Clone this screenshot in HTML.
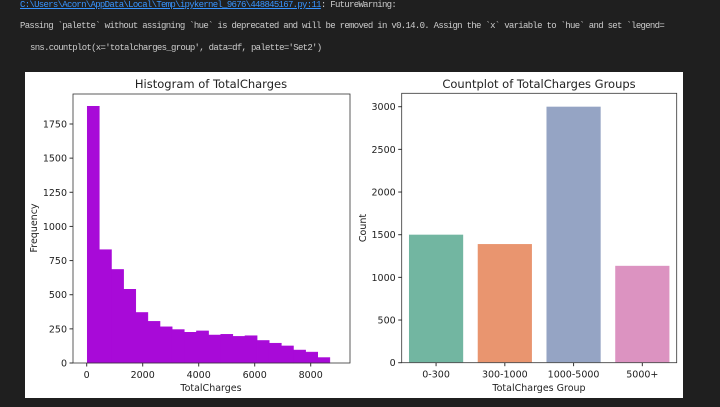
<!DOCTYPE html>
<html><head><meta charset="utf-8"><style>
body{margin:0;width:720px;height:407px;background:#1f1f1f;overflow:hidden;position:relative;font-family:"Liberation Mono",monospace}
#wrap{position:absolute;left:0;top:0;width:720px;height:407px;overflow:hidden}
.t{position:absolute;font-size:9px;letter-spacing:-0.7px;color:#cccccc;white-space:nowrap}
a{color:#3794ff;text-decoration:underline}
svg text{font-family:"DejaVu Sans","Liberation Sans",sans-serif;fill:#222}
</style></head><body>
<div id="wrap">
<div class="t" style="left:20px;top:0px"><a>C:\Users\Acorn\AppData\Local\Temp\ipykernel_9676\448845167.py:11</a>: FutureWarning:</div>
<div class="t" style="left:20px;top:21px">Passing `palette` without assigning `hue` is deprecated and will be removed in v0.14.0. Assign the `x` variable to `hue` and set `legend=</div>
<div class="t" style="left:30px;top:43px">sns.countplot(x='totalcharges_group', data=df, palette='Set2')</div>
<svg id="fig" style="position:absolute;left:0;top:0" width="720" height="407"></svg>
</div>
<script>
const histBins=[19,452,886,1319,1753,2186,2619,3053,3486,3919,4353,4786,5219,5653,6086,6519,6953,7386,7819,8252,8685];
const histCounts=[1880,830,685,540,370,305,265,245,225,235,205,210,195,200,165,145,125,95,80,40];
const histYTicks=[0,250,500,750,1000,1250,1500,1750];
const histXTicks=[0,2000,4000,6000,8000];
const groups=['0-300','300-1000','1000-5000','5000+'];
const groupCounts=[1505,1395,3005,1140];
const groupColors=['#72b6a1','#e9956f','#95a4c4','#dc93c1'];
const countYTicks=[0,500,1000,1500,2000,2500,3000];
const NS='http://www.w3.org/2000/svg';
const svg=document.getElementById('fig');
function el(tag,attrs,text){const e=document.createElementNS(NS,tag);for(const k in attrs)e.setAttribute(k,attrs[k]);if(text!==undefined)e.textContent=text;svg.appendChild(e);return e;}
const bg=el('rect',{x:25,y:72,width:658,height:326,fill:'#fff'});


// Histogram
const L={x0:73,x1:350,y0:94,y1:363};
const hx=v=>86.7+v*(224/8000);
const hy=v=>363-v*(239/1750);
for(let i=0;i<histCounts.length;i++){
 const r=el('rect',{x:hx(histBins[i]),y:hy(histCounts[i]),width:hx(histBins[i+1])-hx(histBins[i]),height:363-hy(histCounts[i]),fill:'#a80ad8',stroke:'#a80ad8','stroke-width':0.5});
 
 
}
el('rect',{x:L.x0,y:L.y0,width:L.x1-L.x0,height:L.y1-L.y0,fill:'none',stroke:'#333','stroke-width':0.8});
histYTicks.forEach(v=>{el('line',{x1:L.x0-3.5,x2:L.x0,y1:hy(v),y2:hy(v),stroke:'#333'});
 const t=el('text',{x:L.x0-6,y:hy(v)+3.5,'font-size':9.5,'text-anchor':'end'},v);
 });
histXTicks.forEach(v=>{el('line',{x1:hx(v),x2:hx(v),y1:L.y1,y2:L.y1+3.5,stroke:'#333'});
 const t=el('text',{x:hx(v),y:L.y1+15,'font-size':9.5,'text-anchor':'middle'},v);
 });
let t=el('text',{x:211,y:88,'font-size':11.5,'text-anchor':'middle'},'Histogram of TotalCharges');

t=el('text',{x:211,y:391,'font-size':9.5,'text-anchor':'middle'},'TotalCharges');

t=el('text',{x:0,y:0,'font-size':9.5,'text-anchor':'middle',transform:'translate(37,228) rotate(-90)'},'Frequency');

// Countplot
const R={x0:401.7,x1:676.7,y0:93.3,y1:362.7};
const band=(R.x1-R.x0)/groups.length;
const cy=v=>362.7-v*(256/3000);
groups.forEach((g,i)=>{
 const x=R.x0+band*i+band*0.1;
 const r=el('rect',{x:x,y:cy(groupCounts[i]),width:band*0.8,height:362.7-cy(groupCounts[i]),fill:groupColors[i],stroke:'#fff','stroke-width':0.8});
 
 
 const cx=R.x0+band*(i+0.5);
 el('line',{x1:cx,x2:cx,y1:R.y1,y2:R.y1+3.5,stroke:'#333'});
 const lt=el('text',{x:cx,y:R.y1+15,'font-size':9.5,'text-anchor':'middle'},g);
 
});
el('rect',{x:R.x0,y:R.y0,width:R.x1-R.x0,height:R.y1-R.y0,fill:'none',stroke:'#333','stroke-width':0.8});
countYTicks.forEach(v=>{el('line',{x1:R.x0-3.5,x2:R.x0,y1:cy(v),y2:cy(v),stroke:'#333'});
 const tt=el('text',{x:R.x0-6,y:cy(v)+3.5,'font-size':9.5,'text-anchor':'end'},v);
 });
t=el('text',{x:539,y:88,'font-size':11.5,'text-anchor':'middle'},'Countplot of TotalCharges Groups');

t=el('text',{x:539,y:391,'font-size':9.5,'text-anchor':'middle'},'TotalCharges Group');

t=el('text',{x:0,y:0,'font-size':9.5,'text-anchor':'middle',transform:'translate(366,228) rotate(-90)'},'Count');

</script>
</body></html>
